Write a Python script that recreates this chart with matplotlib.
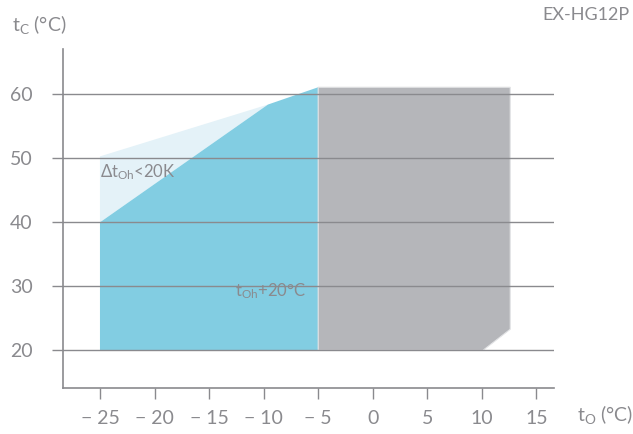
import matplotlib
matplotlib.use("Agg")
import matplotlib.pyplot as plt
from matplotlib.patches import Polygon

plt.rcParams['font.family'] = ['Lato', 'DejaVu Sans']
plt.rcParams['font.weight'] = 'normal'

# Operating envelope: evaporating temperature t0 vs condensing temperature tc
full_t0 = [-25, -25, -9.6, -5, -5]
full_tc = [20, 40, 58.4, 61.1, 20]

limited_t0 = [-25, -25, -9.6]
limited_tc = [40, 50.3, 58.4]

extra_t0 = [-5, -5, 12.6, 12.6, 10.1]
extra_tc = [20, 61.1, 61.1, 23.3, 20]

x_ticks = [-25, -20, -15, -10, -5, 0, 5, 10, 15]
y_ticks = [20, 30, 40, 50, 60]

text_col = '#8a8a8e'
grid_col = '#8a8a8e'

fig = plt.figure(figsize=(6.33, 4.34), dpi=100)
ax = fig.add_axes([0.1, 0.1067, 0.775, 0.7793])
ax.set_xlim(-28.36, 16.6)
ax.set_ylim(14.17, 67)

ax.add_patch(Polygon(list(zip(limited_t0, limited_tc)), closed=True,
                     facecolor='#e4f2f8', edgecolor='none', zorder=1))
ax.add_patch(Polygon(list(zip(full_t0, full_tc)), closed=True,
                     facecolor='#82cde2', edgecolor='none', zorder=2))
ax.add_patch(Polygon(list(zip(extra_t0, extra_tc)), closed=True,
                     facecolor='#b5b6ba', edgecolor='#e2e3e5', linewidth=0.8, zorder=2))

for y in y_ticks:
    ax.axhline(y, color=grid_col, linewidth=1.0, zorder=3)

ax.set_xticks(x_ticks)
ax.set_xticklabels([f'{v}'.replace('-', '\u2212 ') for v in x_ticks])
ax.set_yticks(y_ticks)

for side in ['top', 'right']:
    ax.spines[side].set_visible(False)
for side in ['left', 'bottom']:
    ax.spines[side].set_color(grid_col)
    ax.spines[side].set_linewidth(1.2)

ax.tick_params(axis='both', colors=grid_col, length=8, width=1.0,
               labelsize=14, labelcolor=text_col)
ax.tick_params(axis='y', pad=14)
ax.tick_params(axis='x', pad=8)

ax.text(-25, 47.8, r'$\mathregular{\Delta t_{Oh}}$<20K', fontsize=12,
        color=text_col, ha='left', va='center', zorder=4)
ax.text(-12.6, 29.3, r'$\mathregular{t_{Oh}}$+20°C', fontsize=12,
        color=text_col, ha='left', va='center', zorder=4)

fig.text(12 / 633, 1 - 25 / 434, r'$\mathregular{t_C}$ (°C)', fontsize=14,
         color=text_col, ha='left', va='center')
fig.text(577 / 633, 1 - 415 / 434, r'$\mathregular{t_O}$ (°C)', fontsize=14,
         color=text_col, ha='left', va='center')
fig.text(630 / 633, 1 - 15 / 434, 'EX-HG12P', fontsize=13,
         color=text_col, ha='right', va='center')

fig.savefig('out.png', dpi=100)
